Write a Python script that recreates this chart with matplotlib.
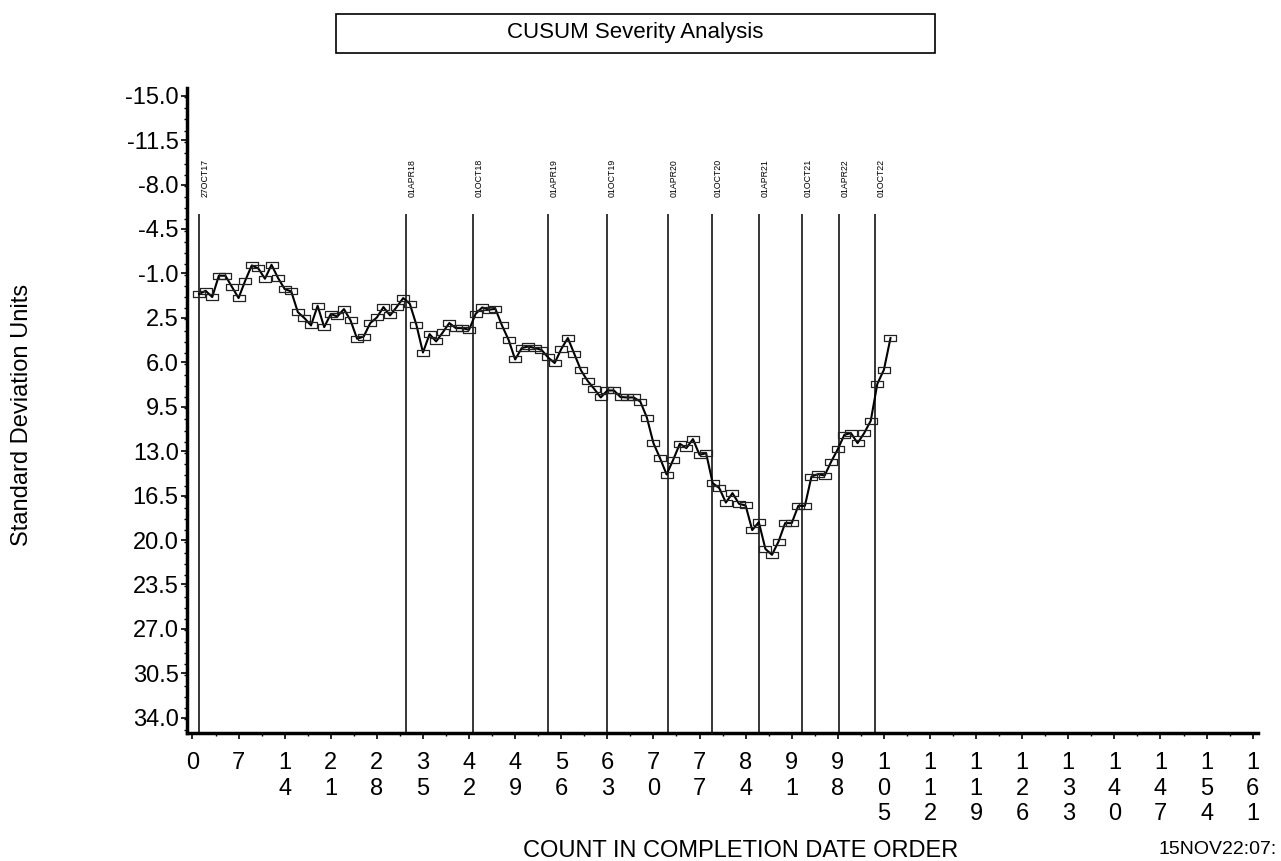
import matplotlib
matplotlib.use('Agg')
import matplotlib.pyplot as plt
from matplotlib.path import Path
from matplotlib.ticker import MultipleLocator, FixedLocator

plt.rcParams['font.family'] = ['Liberation Sans', 'DejaVu Sans']

# valeurs
counts = list(range(1, 107))
cusum = [0.63, 0.37, 0.86, -0.82, -0.82, 0.07, 0.94, -0.42, -1.63, -1.39,
         -0.58, -1.68, -0.63, 0.23, 0.42, 2.05, 2.52, 3.10, 1.55, 3.23,
         2.20, 2.39, 1.81, 2.70, 4.15, 3.97, 2.91, 2.47, 1.65, 2.31,
         1.65, 0.94, 1.39, 3.05, 5.23, 3.78, 4.36, 3.65, 2.91, 3.31,
         3.31, 3.44, 2.18, 1.68, 1.86, 1.79, 3.10, 4.23, 5.78, 4.88,
         4.75, 4.88, 5.02, 5.62, 6.06, 4.96, 4.09, 5.36, 6.64, 7.46,
         8.09, 8.77, 8.22, 8.22, 8.74, 8.77, 8.77, 9.09, 10.35, 12.37,
         13.55, 14.84, 13.68, 12.42, 12.76, 12.05, 13.29, 13.16, 15.52, 15.91,
         17.05, 16.31, 17.15, 17.28, 19.22, 18.59, 20.70, 21.17, 20.12, 18.67,
         18.67, 17.31, 17.31, 15.00, 14.81, 14.92, 13.82, 12.84, 11.71, 11.58,
         12.37, 11.58, 10.61, 7.70, 6.59, 4.09]
ref_pos = [1, 32.4, 42.6, 54.0, 62.9, 72.2, 78.9, 86.1, 92.6, 98.2, 103.7]
ref_labels = ['27OCT17', '01APR18', '01OCT18', '01APR19', '01OCT19', '01APR20',
              '01OCT20', '01APR21', '01OCT21', '01APR22', '01OCT22']
xticks = list(range(0, 162, 7))
yticks = [-15.0 + 3.5 * i for i in range(15)]

box = Path([(-1, -0.55), (1, -0.55), (1, 0.55), (-1, 0.55), (-1, -0.55)],
           [Path.MOVETO, Path.LINETO, Path.LINETO, Path.LINETO, Path.CLOSEPOLY])

fig = plt.figure(figsize=(12.81, 8.61), dpi=100)
ax = fig.add_axes([0.146, 0.1487, 0.836, 0.749])

ax.vlines(ref_pos, -5.7, 35.2, color='black', lw=1.1)
for x, lab in zip(ref_pos, ref_labels):
    ax.text(x + 0.9, -7.0, lab, rotation=90, ha='center', va='bottom', fontsize=6.3)

ax.plot(counts, cusum, color='black', lw=1.5, marker=box, markersize=9,
        markerfacecolor='none', markeredgecolor='#222222', markeredgewidth=0.9)

ax.set_xlim(-0.83, 161.8)
ax.set_ylim(35.2, -15.6)
ax.xaxis.set_major_locator(FixedLocator(xticks))
ax.xaxis.set_minor_locator(MultipleLocator(3.5))
ax.set_xticklabels(['\n'.join(str(v)) for v in xticks], fontsize=17, va='top',
                   linespacing=1.2)
ax.yaxis.set_major_locator(FixedLocator(yticks))
ax.yaxis.set_minor_locator(MultipleLocator(0.875))
ax.set_yticklabels(['%.1f' % v for v in yticks], fontsize=17)

for s in ['top', 'right']:
    ax.spines[s].set_visible(False)
for s in ['left', 'bottom']:
    ax.spines[s].set_linewidth(2.5)
ax.tick_params(which='major', length=4, width=1.2, pad=2)
ax.tick_params(which='minor', length=2.5, width=1)
ax.tick_params(axis='x', which='major', pad=10)

fig.text(0.578, 0.0046, 'COUNT IN COMPLETION DATE ORDER', ha='center', va='baseline', fontsize=17)
fig.text(0.017, 0.518, 'Standard Deviation Units', rotation=90, ha='center', va='center', fontsize=17)
fig.text(0.904, 0.003, '15NOV22:07:', ha='left', va='bottom', fontsize=14)

fig.text(0.496, 0.962, 'CUSUM Severity Analysis', ha='center', va='center', fontsize=16)
rect = plt.Rectangle((336 / 1281, 1 - 53 / 861), (935 - 336) / 1281, 39 / 861,
                     transform=fig.transFigure, facecolor='none', edgecolor='black', lw=1.2)
fig.add_artist(rect)

fig.savefig('out.png', dpi=100)
